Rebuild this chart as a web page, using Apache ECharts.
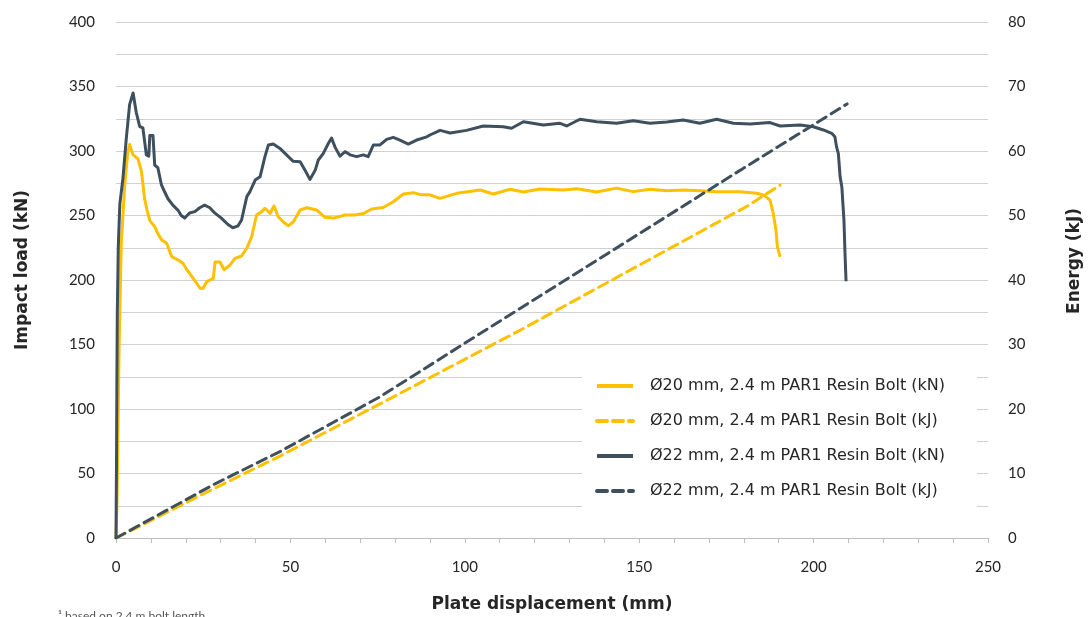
<!DOCTYPE html>
<html>
<head>
<meta charset="utf-8">
<script src="https://cdn.jsdelivr.net/npm/echarts@6/dist/echarts.min.js"></script>
<style>
  html, body { margin: 0; padding: 0; background: #fff; }
  #chart { width: 1088px; height: 617px; }
</style>
</head>
<body>
<div id="chart"></div>
<script>
// series names, in legend order
const seriesNames = [
  'Ø20 mm, 2.4 m PAR1 Resin Bolt (kN)',
  'Ø20 mm, 2.4 m PAR1 Resin Bolt (kJ)',
  'Ø22 mm, 2.4 m PAR1 Resin Bolt (kN)',
  'Ø22 mm, 2.4 m PAR1 Resin Bolt (kJ)'
]

// [plate displacement mm, impact load kN]
const bolt20Load = [
  [0, 0], [0.3, 30], [0.6, 90], [0.9, 150], [1.2, 190], [1.5, 227], [2.5, 274], [3.4, 299.5],
  [3.9, 305], [4.9, 297], [6.3, 294], [7.3, 284], [8.2, 263], [9.0, 253], [9.7, 246],
  [11.1, 241.3], [12.0, 236], [13.1, 231], [14.5, 228.5], [16.0, 218], [17.8, 215.5],
  [19.2, 213], [20.3, 208], [22.2, 201], [24.1, 193.6], [25.0, 193.6], [26.0, 198.7],
  [27.9, 201.3], [28.4, 214], [29.8, 214], [31.0, 208], [32.7, 211.6], [34.1, 216.8],
  [36.0, 218.6], [37.5, 224.6], [38.9, 233.6], [40.3, 250.4], [41.8, 253], [42.7, 255.6],
  [44.2, 251.7], [45.3, 257.4], [46.5, 249], [48.0, 245], [49.4, 242], [50.8, 245],
  [52.8, 254.3], [54.7, 256], [57.5, 254.3], [59.9, 248.6], [62.3, 248], [65.7, 250.4],
  [68.5, 250.4], [70.9, 251.5], [73.3, 255], [76.6, 256.2], [79.5, 260.7], [82.4, 266.7],
  [85.2, 267.7], [87.6, 266], [90.0, 266], [92.9, 263.3], [97.7, 267.2], [104.4, 269.8],
  [108.2, 266.7], [113.0, 270.3], [116.8, 268.2], [121.6, 270.5], [128.2, 269.8],
  [132.1, 270.8], [137.8, 268.2], [143.5, 271.2], [148.3, 268.5], [153.1, 270.3],
  [157.9, 269.2], [162.6, 269.8], [167.4, 269.2], [172.2, 268.5], [178.9, 268.5],
  [183.7, 267.2], [185.6, 266], [187.5, 262], [188.4, 252], [189.2, 239], [189.6, 226],
  [190.4, 218]
]

const bolt22Load = [
  [0, 0], [0.15, 60], [0.25, 120], [0.37, 174], [0.66, 226], [1.1, 259], [2.0, 279],
  [2.96, 310], [3.9, 336], [4.9, 345], [5.8, 330], [6.8, 319], [7.7, 318], [8.7, 297],
  [9.4, 296], [9.7, 312], [10.6, 312], [11.1, 289], [12.0, 287], [13.0, 274], [14.0, 268],
  [14.9, 263], [16.3, 258], [17.8, 254], [18.7, 250], [19.7, 248], [21.1, 252], [22.6, 253],
  [24.0, 256], [25.4, 258], [26.9, 256], [28.3, 252], [30.2, 248], [32.1, 243], [33.5, 240.5],
  [35.0, 242], [36.0, 246.5], [37.5, 264.6], [38.4, 268.5], [39.9, 277.5], [41.3, 280],
  [42.7, 295.6], [43.7, 304.7], [45.1, 305.4], [47.0, 302], [48.9, 297], [50.8, 292],
  [52.8, 291.7], [54.2, 285], [55.6, 278], [57.1, 285], [58.0, 293], [59.4, 298], [60.9, 306],
  [61.8, 310], [62.8, 303], [64.2, 296], [65.7, 299.5], [67.1, 297], [69.0, 295.6],
  [70.9, 297], [72.3, 295.6], [73.8, 304.7], [75.7, 304.7], [77.6, 309], [79.5, 310.6],
  [81.4, 308.5], [83.8, 305.4], [86.2, 308.5], [89.1, 311], [90.0, 312.4], [92.9, 316],
  [95.8, 314], [100.5, 316], [105.3, 319.4], [111.0, 318.8], [113.4, 317.6], [116.8, 322.7],
  [122.5, 320.2], [127.3, 321.5], [129.2, 319.4], [133.0, 324.6], [137.8, 322.7],
  [143.5, 321.5], [148.3, 323.5], [153.1, 321.5], [157.9, 322.5], [162.6, 324], [167.4, 321.5],
  [172.2, 324.6], [177.0, 321.5], [181.8, 320.9], [187.5, 322], [190.4, 319.4], [196.1, 320.2],
  [199.9, 318.8], [202.8, 316.3], [205.2, 313.7], [206.1, 311], [206.6, 303], [207.1, 298],
  [207.6, 280], [208.1, 272], [208.7, 246.5], [209.0, 220.7], [209.3, 199]
]

// [plate displacement mm, energy kJ]
const bolt20Energy = [
  [0, 0], [28.4, 7.75], [47, 12.7], [75.7, 20.8], [115.8, 32.2], [180.8, 51.4], [190.4, 54.7]
]
const bolt22Energy = [
  [0, 0], [28.4, 8.4], [47, 13.4], [75.7, 21.9], [104.4, 31.7], [179.8, 57.3], [209.6, 67.3]
]

const yellow = '#FFC000'
const slate = '#3E4F5E'
const font = 'Lato, "Open Sans", sans-serif'
const wideFont = '"DejaVu Sans", Lato, sans-serif'
const textColor = '#262626'

const chart = echarts.init(document.getElementById('chart'), null, { renderer: 'canvas' })

function lineSeries(name, data, color, dashed, yAxisIndex) {
  return {
    name,
    type: 'line',
    data,
    yAxisIndex,
    showSymbol: false,
    symbol: 'none',
    smooth: false,
    lineStyle: {
      color,
      width: 3,
      type: dashed ? [10, 6] : 'solid',
      cap: dashed ? 'round' : 'butt',
      join: 'round'
    },
    itemStyle: { color },
    animation: false
  }
}

const titleStyle = { fontSize: 17, fontWeight: 'bold', color: textColor, fontFamily: wideFont }

chart.setOption({
  textStyle: { fontFamily: font, color: textColor },
  grid: { left: 116, right: 100, top: 22, bottom: 79, outerBoundsMode: 'none', containLabel: false },
  graphic: [
    {
      type: 'rect',
      z: 1,
      shape: { x: 582, y: 356, width: 395, height: 166 },
      style: { fill: '#fff' }
    },
    {
      type: 'text',
      left: 58,
      top: 610,
      style: { text: '¹ based on 2.4 m bolt length', fill: '#555', font: '12px ' + font }
    }
  ],
  legend: {
    data: seriesNames,
    orient: 'vertical',
    left: 590,
    top: 373,
    itemWidth: 36,
    itemHeight: 14,
    itemGap: 19,
    itemStyle: { opacity: 0 },
    lineStyle: { width: 4 },
    textStyle: { fontSize: 16, color: textColor, fontFamily: wideFont, padding: [0, 0, 0, 12] },
    z: 4
  },
  xAxis: {
    type: 'value',
    min: 0,
    max: 250,
    interval: 10,
    name: 'Plate displacement (mm)',
    nameLocation: 'middle',
    nameGap: 58,
    nameTextStyle: titleStyle,
    axisLine: { show: true, lineStyle: { color: '#BFBFBF', width: 1 } },
    axisTick: { show: true, inside: false, length: 5, lineStyle: { color: '#BFBFBF' } },
    axisLabel: {
      fontSize: 15,
      color: textColor,
      margin: 22,
      formatter: v => (v % 50 === 0 ? String(v) : '')
    },
    splitLine: { show: false }
  },
  yAxis: [
    {
      type: 'value',
      min: 0,
      max: 400,
      interval: 25,
      name: 'Impact load (kN)',
      nameLocation: 'middle',
      nameGap: 85,
      nameRotate: 90,
      nameTextStyle: Object.assign({ padding: [0, 0, 0, 20] }, titleStyle),
      axisLine: { show: false },
      axisTick: { show: false },
      axisLabel: {
        fontSize: 15,
        color: textColor,
        margin: 21,
        formatter: v => (v % 50 === 0 ? String(v) : '')
      },
      splitLine: { show: true, lineStyle: { color: '#D0D0D0', width: 1 } }
    },
    {
      type: 'value',
      min: 0,
      max: 80,
      interval: 10,
      name: 'Energy (kJ)',
      nameLocation: 'middle',
      nameGap: 78,
      nameRotate: 90,
      nameTextStyle: Object.assign({ padding: [0, 0, 0, 38] }, titleStyle),
      axisLine: { show: false },
      axisTick: { show: false },
      axisLabel: { fontSize: 15, color: textColor, margin: 20 },
      splitLine: { show: false }
    }
  ],
  series: [
    lineSeries(seriesNames[0], bolt20Load, yellow, false, 0),
    lineSeries(seriesNames[1], bolt20Energy, yellow, true, 1),
    lineSeries(seriesNames[2], bolt22Load, slate, false, 0),
    lineSeries(seriesNames[3], bolt22Energy, slate, true, 1)
  ]
})
</script>
</body>
</html>
